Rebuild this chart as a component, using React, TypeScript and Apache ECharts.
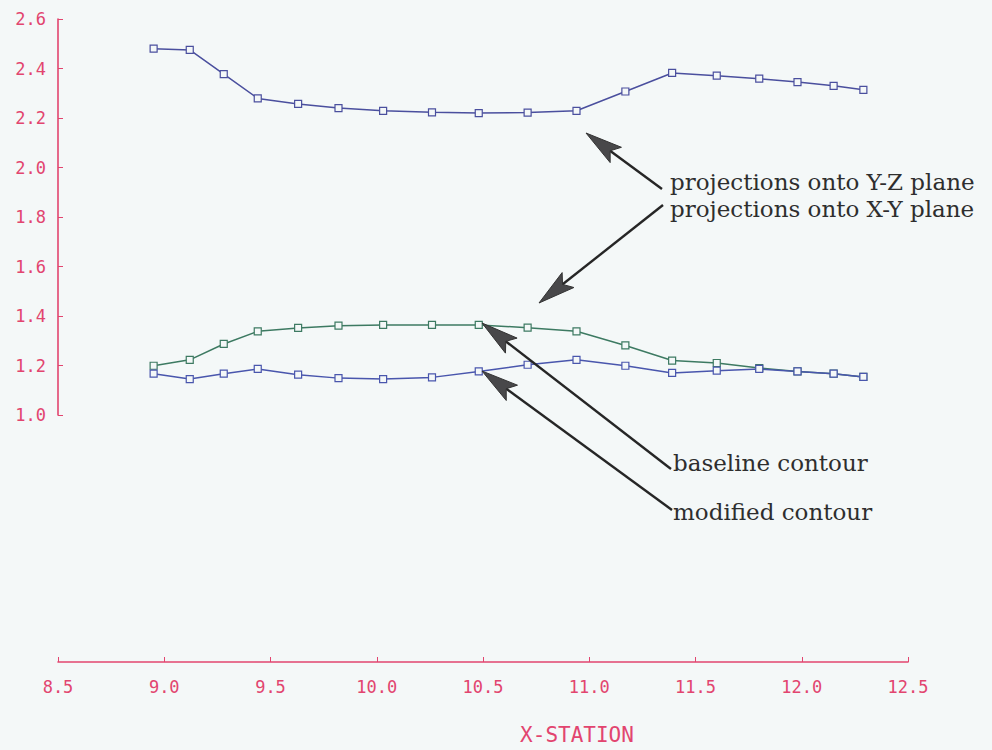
import React, { useEffect, useRef } from "react";
import * as echarts from "echarts";

const xStations = [8.95, 9.12, 9.28, 9.44, 9.63, 9.82, 10.03, 10.26, 10.48, 10.71, 10.94, 11.17, 11.39, 11.6, 11.8, 11.98, 12.15, 12.29];
const yzPlane = [2.48, 2.475, 2.377, 2.279, 2.257, 2.24, 2.229, 2.223, 2.22, 2.222, 2.229, 2.307, 2.382, 2.371, 2.359, 2.345, 2.33, 2.314];
const baselineXY = [1.199, 1.223, 1.287, 1.338, 1.352, 1.361, 1.364, 1.364, 1.364, 1.353, 1.338, 1.281, 1.22, 1.21, 1.19, 1.176, 1.167, 1.154];
const modifiedXY = [1.167, 1.145, 1.167, 1.186, 1.163, 1.149, 1.145, 1.152, 1.176, 1.203, 1.223, 1.199, 1.17, 1.179, 1.186, 1.176, 1.167, 1.154];

const yTicks = { min: 1.0, max: 2.6, interval: 0.2 };
const xTicks = { min: 8.5, max: 12.5, interval: 0.5 };

const AXIS_RED = "#e2456f";
const BG = "#f4f8f8";
const BLUE = "#4a4f9e";
const GREEN = "#3d7a62";
const BLUE2 = "#4956ad";

type Arrow = { from: [number, number]; tip: [number, number] };
const arrows: Arrow[] = [
  { from: [662, 189], tip: [586, 133] },
  { from: [663, 205], tip: [539, 303] },
  { from: [671, 469], tip: [482, 323] },
  { from: [672, 510], tip: [482, 371] },
];

function arrowGraphics(a: Arrow) {
  const [x0, y0] = a.from;
  const [x1, y1] = a.tip;
  const dx = x1 - x0;
  const dy = y1 - y0;
  const len = Math.sqrt(dx * dx + dy * dy);
  const ux = dx / len;
  const uy = dy / len;
  const nx = -uy;
  const ny = ux;
  const L = 37;
  const W = 9.5;
  const bx = x1 - ux * L;
  const by = y1 - uy * L;
  const notchX = x1 - ux * (L - 7);
  const notchY = y1 - uy * (L - 7);
  return [
    {
      type: "line",
      shape: { x1: x0, y1: y0, x2: x1 - ux * 10, y2: y1 - uy * 10 },
      style: { stroke: "#262626", lineWidth: 2.4 },
      z: 100,
    },
    {
      type: "polygon",
      shape: {
        points: [
          [x1, y1],
          [bx + nx * W, by + ny * W],
          [notchX, notchY],
          [bx - nx * W, by - ny * W],
        ],
      },
      style: { fill: "#48484a", stroke: "#333", lineWidth: 1 },
      z: 101,
    },
  ];
}

const labels = [
  { text: "projections onto Y-Z plane", x: 670, y: 182, size: 23 },
  { text: "projections onto X-Y plane", x: 670, y: 209, size: 23 },
  { text: "baseline contour", x: 673, y: 463, size: 23 },
  { text: "modified contour", x: 673, y: 512, size: 23 },
];

function makeSeries(name: string, values: number[], color: string) {
  return {
    name,
    type: "line",
    data: xStations.map((x, i) => [x, values[i]]),
    symbol: "rect",
    symbolSize: 7,
    lineStyle: { color, width: 1.5 },
    itemStyle: { color: BG, borderColor: color, borderWidth: 1.2 },
  };
}

export default function App() {
  const ref = useRef<HTMLDivElement>(null);
  useEffect(() => {
    if (!ref.current) return;
    const chart = echarts.init(ref.current, undefined, { renderer: "svg" });
    const graphics: any[] = [];
    arrows.forEach((a) => graphics.push(...arrowGraphics(a)));
    labels.forEach((l) =>
      graphics.push({
        type: "text",
        x: l.x,
        y: l.y,
        style: {
          text: l.text,
          font: `${l.size}px "DejaVu Serif"`,
          fill: "#2e2e2e",
          verticalAlign: "middle",
          align: "left",
        },
        z: 102,
      })
    );
    chart.setOption({
      animation: false,
      backgroundColor: BG,
      grid: { left: 58, right: 84, top: 19, bottom: 335 },
      xAxis: {
        type: "value",
        min: xTicks.min,
        max: xTicks.max,
        interval: xTicks.interval,
        position: "bottom",
        offset: 247,
        name: "X-STATION",
        nameLocation: "middle",
        nameGap: 62,
        nameTextStyle: {
          color: AXIS_RED,
          fontFamily: "DejaVu Sans Mono",
          fontSize: 21,
          padding: [0, 0, 0, 188],
        },
        splitLine: { show: false },
        axisLine: { onZero: false, lineStyle: { color: AXIS_RED, width: 1.6 } },
        axisTick: { show: true, inside: true, length: 5, lineStyle: { color: AXIS_RED } },
        axisLabel: {
          color: AXIS_RED,
          fontFamily: "DejaVu Sans Mono",
          fontSize: 17,
          margin: 16,
          formatter: (v: number) => v.toFixed(1),
        },
      },
      yAxis: {
        type: "value",
        min: yTicks.min,
        max: yTicks.max,
        interval: yTicks.interval,
        splitLine: { show: false },
        axisLine: { show: true, onZero: false, lineStyle: { color: AXIS_RED, width: 1.6 } },
        axisTick: { show: true, inside: true, length: 5, lineStyle: { color: AXIS_RED } },
        axisLabel: {
          color: AXIS_RED,
          fontFamily: "DejaVu Sans Mono",
          fontSize: 17,
          margin: 12,
          formatter: (v: number) => v.toFixed(1),
        },
      },
      series: [
        makeSeries("projections onto Y-Z plane", yzPlane, BLUE),
        makeSeries("baseline contour", baselineXY, GREEN),
        makeSeries("modified contour", modifiedXY, BLUE2),
      ],
      graphic: graphics,
    });
    return () => chart.dispose();
  }, []);
  return (
    <div
      ref={ref}
      style={{ position: "fixed", left: 0, top: 0, width: 992, height: 750 }}
    />
  );
}
